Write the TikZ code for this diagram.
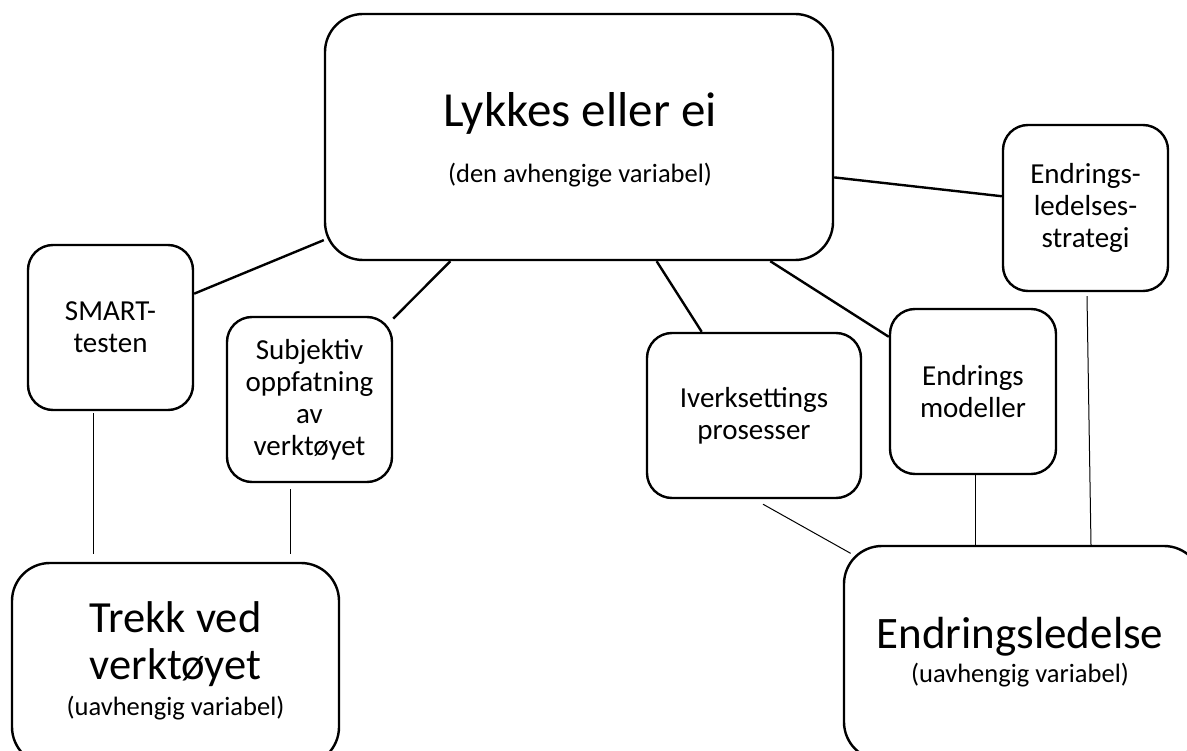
\documentclass[tikz,border=0pt]{standalone}
\usepackage{fontspec}
\setmainfont{Carlito}
\begin{document}
\begin{tikzpicture}[x=1pt,y=-1pt,
  box/.style={draw=black, line width=2.4pt, rounded corners=25pt, inner sep=0pt,
    align=center, fill=white, font=\fontsize{29}{32}\selectfont},
  bigbox/.style={box, rounded corners=38pt},
  link/.style={draw=black, line width=2.4pt},
  thinlink/.style={draw=black, line width=1pt},
  headline/.style={anchor=base, inner sep=0pt},
  bigfont/.style={font=\fontsize{44.5}{50}\selectfont},
  smallfont/.style={font=\fontsize{26.5}{32}\selectfont},
]
\useasboundingbox (0,0) rectangle (1187,751);
\clip (0,0) rectangle (1187,751);
\fill[white] (0,0) rectangle (1187,751);

% main outcome box
\node[bigbox, minimum width=508pt, minimum height=246pt] (main) at (579,137) {};
\node[headline, font=\fontsize{49}{59}\selectfont] (maintitle) at (580,127) {Lykkes eller ei};
\node[headline, smallfont] (mainsub) at (580,183) {(den avhengige variabel)};

% tool features side
\node[box, minimum width=165pt, minimum height=165pt] (smart) at (110.5,327.5) {SMART-\\testen};
\node[box, minimum width=165pt, minimum height=165pt] (subj) at (309.5,399.5) {Subjektiv\\oppfatning\\av\\verktøyet};
\node[bigbox, minimum width=327pt, minimum height=202pt] (trekk) at (175.5,664) {};
\node[headline, bigfont] (trekk1) at (175.5,632) {Trekk ved};
\node[headline, bigfont] (trekk2) at (175.5,679) {verktøyet};
\node[headline, smallfont] (trekk3) at (175.5,715) {(uavhengig variabel)};

% change management side
\node[box, minimum width=214pt, minimum height=165pt] (iverk) at (754,415.5) {Iverksettings\\prosesser};
\node[box, minimum width=166pt, minimum height=165pt] (modell) at (973,391.5) {Endrings\\modeller};
\node[box, minimum width=165pt, minimum height=166pt] (strat) at (1085.5,208) {Endrings-\\ledelses-\\strategi};
\node[bigbox, minimum width=358pt, minimum height=214pt] (endr) at (1023,653) {};
\node[headline, font=\fontsize{45}{50}\selectfont] (endr1) at (1020,648) {Endringsledelse};
\node[headline, smallfont] (endr2) at (1020,682) {(uavhengig variabel)};

% links to the outcome
\draw[link] (smart.22.7) -- (main.202);
\draw[link] (subj.44.3) -- (main.224.3);
\draw[link] (main.302.4) -- (iverk.122.2);
\draw[link] (main.327.2) -- (modell.147.2);
\draw[link] (main.351.9) -- (strat.172.4);

% links to the independent variables
\draw[thinlink] ([xshift=-17.5pt,yshift=-2pt]smart.south) -- ([xshift=-82.5pt,yshift=8pt]trekk.north);
\draw[thinlink] ([xshift=-19.5pt,yshift=-6pt]subj.south) -- ([xshift=114.5pt,yshift=8pt]trekk.north);
\draw[thinlink, shorten >=-9pt] ([xshift=9pt,yshift=-5pt]iverk.south) -- (endr.150.15);
\draw[thinlink] ([xshift=2pt]modell.south) -- ([xshift=-48pt]endr.north);
\draw[thinlink] ([xshift=1.5pt,yshift=-4pt]strat.south) -- ([xshift=68pt]endr.north);
\end{tikzpicture}
\end{document}
